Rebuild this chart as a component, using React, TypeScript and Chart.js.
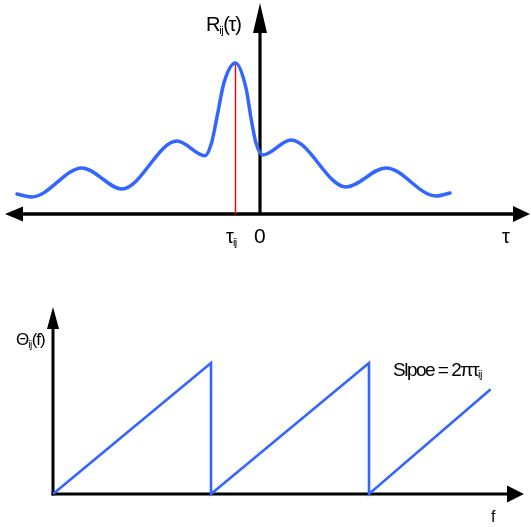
import React, { useEffect, useRef } from "react";
import { Chart, registerables } from "chart.js";

Chart.register(...registerables);

// ---- data (top panel: cross-correlation R_ij(τ)) ----
const corrTau = [-9.72, -9.12, -7.12, -5.52, -3.32, -2.2, -1.94, -1.7, -1.44, -0.98, -0.56, -0.36, -0.16, 0.12, 1.24, 3.44, 5.04, 7.04, 7.6];
const corrR = [0.132, 0.113, 0.305, 0.166, 0.483, 0.386, 0.47, 0.66, 0.87, 1.0, 0.834, 0.636, 0.47, 0.391, 0.49, 0.179, 0.305, 0.119, 0.139];
const tauIJ = -0.98;
const tauIJPeak = 1.0;
// axis extents (data units)
const topAxisX = [-10.2, 10.8];
const topAxisYTop = 1.397;

// ---- data (bottom panel: phase Θ_ij(f)) ----
const freq = [0, 1, 1, 2, 2, 2.77];
const phase = [0, 1, 0, 1, 0, 0.8];
const botAxisXEnd = 2.981;
const botAxisYTop = 1.427;

const W = 531;
const TOP_H = 262;
const BOT_H = 265;
const BLUE = "#3366ff";
const fontFamily = '"Liberation Sans", Arial, Helvetica, sans-serif';

function arrow(ctx: CanvasRenderingContext2D, tx: number, ty: number, dx: number, dy: number, len: number, half: number) {
  const bx = tx - dx * len;
  const by = ty - dy * len;
  const px = -dy;
  const py = dx;
  ctx.beginPath();
  ctx.moveTo(tx, ty);
  ctx.lineTo(bx + px * half, by + py * half);
  ctx.lineTo(bx - px * half, by - py * half);
  ctx.closePath();
  ctx.fill();
}

const topAxesPlugin = {
  id: "topAxes",
  beforeDatasetsDraw(chart: any) {
    const { ctx } = chart;
    const xs = chart.scales.x;
    const ys = chart.scales.y;
    const y0 = ys.getPixelForValue(0);
    const xl = xs.getPixelForValue(topAxisX[0]);
    const xr = xs.getPixelForValue(topAxisX[1]);
    const x0 = xs.getPixelForValue(0);
    const yt = ys.getPixelForValue(topAxisYTop);
    ctx.save();
    ctx.fillStyle = "#000";
    ctx.strokeStyle = "#000";
    ctx.lineWidth = 3.5;
    ctx.beginPath();
    ctx.moveTo(xl + 10, y0);
    ctx.lineTo(xr - 10, y0);
    ctx.stroke();
    ctx.lineWidth = 3.2;
    ctx.beginPath();
    ctx.moveTo(x0, y0);
    ctx.lineTo(x0, yt + 20);
    ctx.stroke();
    arrow(ctx, xl, y0, -1, 0, 18, 7.5);
    arrow(ctx, xr, y0, 1, 0, 17, 8);
    arrow(ctx, x0, yt, 0, -1, 30, 7);
    ctx.restore();
  },
};

const botAxesPlugin = {
  id: "botAxes",
  beforeDatasetsDraw(chart: any) {
    const { ctx } = chart;
    const xs = chart.scales.x;
    const ys = chart.scales.y;
    const y0 = ys.getPixelForValue(0);
    const x0 = xs.getPixelForValue(0);
    const xr = xs.getPixelForValue(botAxisXEnd);
    const yt = ys.getPixelForValue(botAxisYTop);
    ctx.save();
    ctx.fillStyle = "#000";
    ctx.strokeStyle = "#000";
    ctx.lineWidth = 3;
    ctx.beginPath();
    ctx.moveTo(x0 - 1.5, y0);
    ctx.lineTo(xr - 10, y0);
    ctx.stroke();
    ctx.beginPath();
    ctx.moveTo(x0, y0 + 1.5);
    ctx.lineTo(x0, yt + 14);
    ctx.stroke();
    arrow(ctx, xr, y0, 1, 0, 17, 8.5);
    arrow(ctx, x0, yt, 0, -1, 22, 6);
    ctx.restore();
  },
};

function Label({ x, base, size, spacing = 0, children }: any) {
  return (
    <div
      style={{
        position: "absolute",
        left: x,
        top: base - 0.8465 * size,
        fontSize: size,
        lineHeight: 1,
        fontFamily,
        letterSpacing: spacing,
        whiteSpace: "nowrap",
        color: "#000",
      }}
    >
      {children}
    </div>
  );
}

function Sub({ size, drop, children }: any) {
  return <span style={{ fontSize: size, position: "relative", top: drop, letterSpacing: -0.5 }}>{children}</span>;
}

export default function App() {
  const topRef = useRef<HTMLCanvasElement>(null);
  const botRef = useRef<HTMLCanvasElement>(null);

  useEffect(() => {
    const topX0 = 260, topY0 = 214, topXUnit = 25, topYUnit = 151;
    const top = new Chart(topRef.current!, {
      type: "line",
      data: {
        datasets: [
          {
            data: corrTau.map((t, i) => ({ x: t, y: corrR[i] })),
            borderColor: BLUE,
            borderWidth: 3.5,
            pointRadius: 0,
            cubicInterpolationMode: "monotone",
            borderCapStyle: "round",
            fill: false,
          },
          {
            data: [
              { x: tauIJ, y: 0 },
              { x: tauIJ, y: tauIJPeak },
            ],
            borderColor: "#ff0000",
            borderWidth: 1.4,
            pointRadius: 0,
            tension: 0,
            fill: false,
          },
        ],
      },
      options: {
        animation: false,
        responsive: false,
        devicePixelRatio: 1,
        layout: { padding: 0 },
        events: [],
        plugins: { legend: { display: false }, tooltip: { enabled: false }, title: { display: false } },
        scales: {
          x: { type: "linear", display: false, min: -topX0 / topXUnit, max: (W - topX0) / topXUnit },
          y: { type: "linear", display: false, min: -(TOP_H - topY0) / topYUnit, max: topY0 / topYUnit },
        },
      } as any,
      plugins: [topAxesPlugin],
    });

    const botX0 = 53, botY0 = 232, botXUnit = 158, botYUnit = 131;
    const bot = new Chart(botRef.current!, {
      type: "line",
      data: {
        datasets: [
          {
            data: freq.map((f, i) => ({ x: f, y: phase[i] })),
            borderColor: BLUE,
            borderWidth: 2.6,
            pointRadius: 0,
            tension: 0,
            borderJoinStyle: "miter",
            fill: false,
          },
        ],
      },
      options: {
        animation: false,
        responsive: false,
        devicePixelRatio: 1,
        layout: { padding: 0 },
        events: [],
        plugins: { legend: { display: false }, tooltip: { enabled: false }, title: { display: false } },
        scales: {
          x: { type: "linear", display: false, min: -botX0 / botXUnit, max: (W - botX0) / botXUnit },
          y: { type: "linear", display: false, min: -(BOT_H - botY0) / botYUnit, max: botY0 / botYUnit },
        },
      } as any,
      plugins: [botAxesPlugin],
    });

    return () => {
      top.destroy();
      bot.destroy();
    };
  }, []);

  return (
    <div style={{ position: "absolute", left: 0, top: 0, width: W, height: TOP_H + BOT_H, background: "#fff", overflow: "hidden" }}>
      <canvas ref={topRef} width={W} height={TOP_H} style={{ position: "absolute", left: 0, top: 0, width: W, height: TOP_H }} />
      <canvas ref={botRef} width={W} height={BOT_H} style={{ position: "absolute", left: 0, top: TOP_H, width: W, height: BOT_H }} />

      <Label x={206} base={31} size={20} spacing={-1.2}>
        R<Sub size={11} drop={3}>ij</Sub>(τ)
      </Label>
      <Label x={226} base={243} size={20} spacing={-1}>
        τ<Sub size={11} drop={3}>ij</Sub>
      </Label>
      <Label x={254} base={243} size={21}>
        0
      </Label>
      <Label x={502} base={243} size={20}>
        τ
      </Label>
      <Label x={16} base={345} size={17} spacing={-1}>
        Θ<Sub size={10} drop={3}>ij</Sub>(f)
      </Label>
      <Label x={393} base={376} size={19} spacing={-1.5}>
        Slpoe = 2πτ<Sub size={11} drop={2}>ij</Sub>
      </Label>
      <Label x={491} base={523} size={16}>
        f
      </Label>
    </div>
  );
}
